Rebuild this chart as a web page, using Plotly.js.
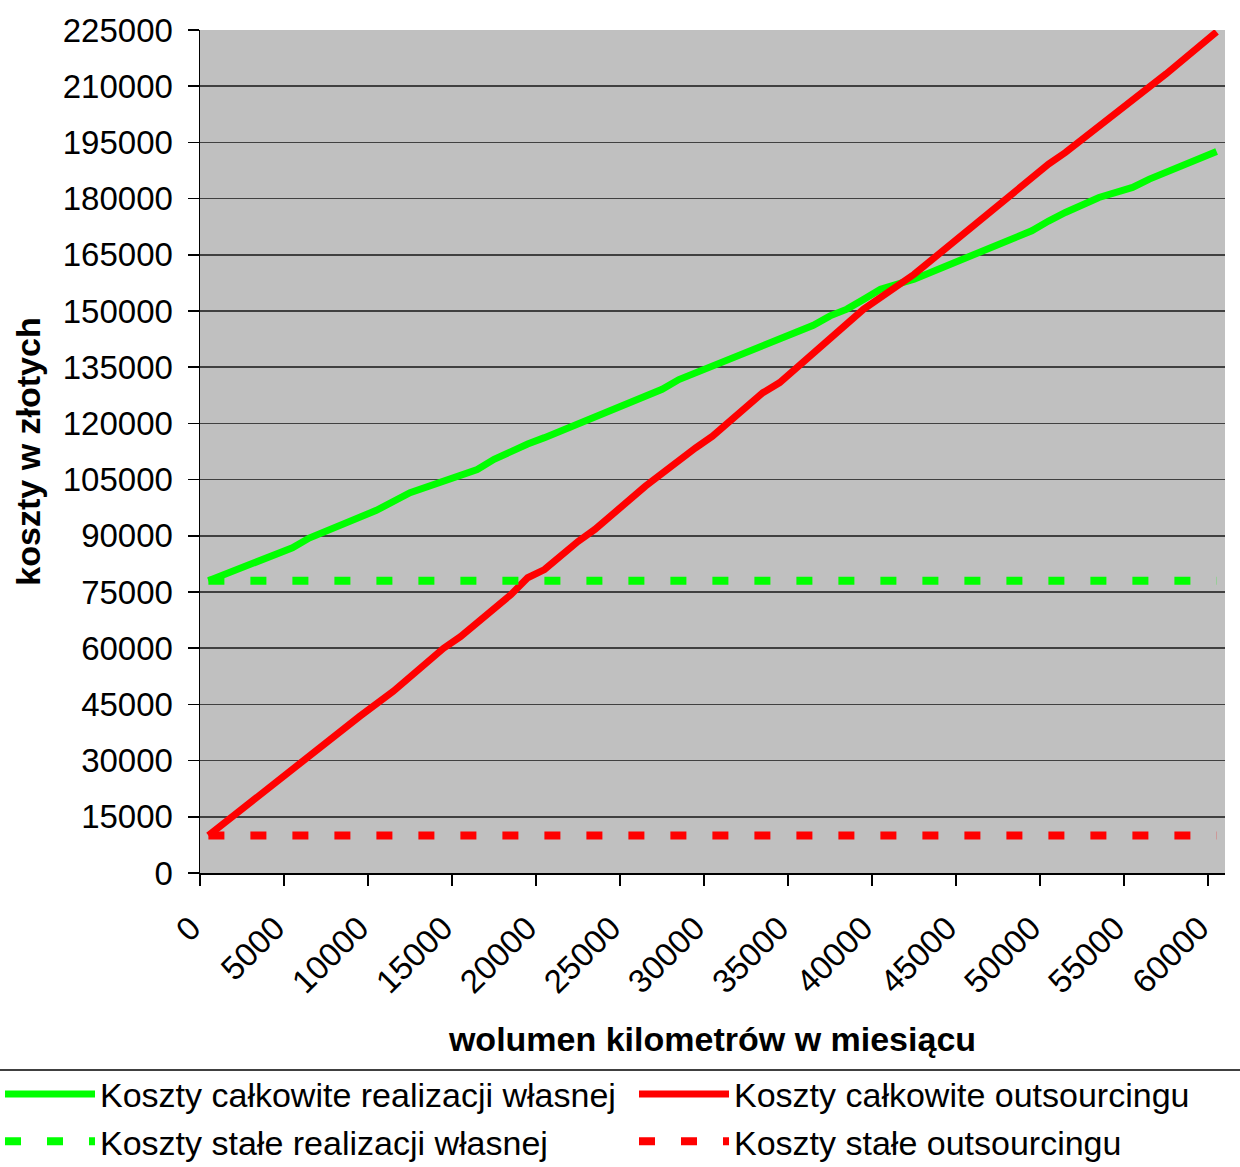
<!DOCTYPE html>
<html>
<head>
<meta charset="utf-8">
<script src="https://cdn.plot.ly/plotly-3.0.1.min.js"></script>
<style>html,body{margin:0;padding:0;background:#fff;}</style>
</head>
<body>
<div id="chart" style="width:1240px;height:1167px;"></div>
<script>
// Tick labels of the category (km) axis
var xTickLabels = [0, 5000, 10000, 15000, 20000, 25000, 30000, 35000, 40000, 45000, 50000, 55000, 60000];

// Koszty całkowite realizacji własnej (km, zł)
var ownTotalKm   = [0, 5000, 6000, 9000, 10000, 12000, 16000, 17000, 18000, 19000, 20000, 24000, 25000, 27000, 28000, 30000, 34000, 36000, 37000, 38000, 39000, 40000, 42000, 46000, 49000, 50000, 51000, 53000, 55000, 56000, 60000];
var ownTotalCost = [78000, 86800, 89400, 94800, 96800, 101500, 107700, 110400, 112700, 114500, 116200, 123700, 125500, 129100, 131700, 135300, 142900, 146200, 148700, 150500, 153100, 155800, 158500, 166000, 171400, 174000, 176300, 180300, 183000, 185200, 192600];

// Koszty całkowite outsourcingu (km, zł)
var outTotalKm   = [0, 3000, 4000, 6000, 7000, 9000, 11000, 14000, 15000, 18000, 19000, 20000, 22000, 23000, 26000, 27000, 29000, 30000, 33000, 34000, 35000, 36000, 37000, 39000, 42000, 45000, 46000, 49000, 50000, 51000, 53000, 54000, 55000, 57000, 60000];
var outTotalCost = [10000, 20800, 24000, 31100, 35100, 41800, 48500, 60000, 63100, 74300, 78800, 81000, 88500, 91700, 103200, 106800, 113500, 116600, 128200, 130900, 134900, 138400, 142900, 150500, 159800, 170900, 174100, 185200, 189200, 192300, 199400, 202600, 206600, 213300, 224500];

// Koszty stałe (km, zł)
var fixedKm      = [0, 60000];
var ownFixedCost = [78000, 78000];
var outFixedCost = [10000, 10000];

var FONT = "Arial, 'Liberation Sans', sans-serif";

var traces = [
  {x: ownTotalKm, y: ownTotalCost, type: 'scatter', mode: 'lines', name: 'Koszty całkowite realizacji własnej',
   legend: 'legend', line: {color: '#00FF00', width: 7}},
  {x: outTotalKm, y: outTotalCost, type: 'scatter', mode: 'lines', name: 'Koszty całkowite outsourcingu',
   legend: 'legend2', line: {color: '#FF0000', width: 7}},
  {x: fixedKm, y: ownFixedCost, type: 'scatter', mode: 'lines', name: 'Koszty stałe realizacji własnej',
   legend: 'legend', line: {color: '#00FF00', width: 8, dash: '16px,26px'}},
  {x: fixedKm, y: outFixedCost, type: 'scatter', mode: 'lines', name: 'Koszty stałe outsourcingu',
   legend: 'legend2', line: {color: '#FF0000', width: 8, dash: '16px,26px'}}
];

// one legend column per cost type; entries wrap one per row
function legendBox(xPos, entryW) {
  return {
    orientation: 'h',
    xref: 'container', yref: 'container',
    x: xPos, y: 0.087, xanchor: 'left', yanchor: 'top',
    font: {family: FONT, size: 34, color: '#000'},
    itemwidth: 90,
    entrywidth: entryW, entrywidthmode: 'pixels',
    bgcolor: 'rgba(0,0,0,0)',
    traceorder: 'normal'
  };
}

var layout = {
  width: 1240, height: 1167,
  margin: {l: 200, r: 15, t: 30, b: 294},
  paper_bgcolor: '#FFFFFF',
  plot_bgcolor: '#C0C0C0',
  font: {family: FONT, color: '#000', size: 33},
  showlegend: true,
  xaxis: {
    type: 'linear',
    range: [-500, 60500],
    tickmode: 'array',
    tickvals: xTickLabels.map(function(v){ return v - 500; }),
    ticktext: xTickLabels.map(String),
    tickangle: -45,
    ticks: 'outside', ticklen: 11, tickwidth: 1.5, tickcolor: '#000',
    ticklabelstandoff: 10,
    ticklabelshift: -9,
    showline: true, linecolor: '#000', linewidth: 1.5,
    showgrid: false, zeroline: false,
    tickfont: {family: FONT, size: 33, color: '#000'},
    title: {text: 'wolumen kilometrów w miesiącu', font: {family: FONT, size: 34, weight: 'bold', color: '#000'}, standoff: 28}
  },
  yaxis: {
    range: [0, 225000],
    tick0: 0, dtick: 15000,
    tickformat: 'd',
    ticks: 'outside', ticklen: 11, tickwidth: 1.5, tickcolor: '#000',
    ticklabelstandoff: 8,
    showline: true, linecolor: '#000', linewidth: 1.5,
    showgrid: true, gridcolor: '#404040', gridwidth: 1.5,
    zeroline: false,
    tickfont: {family: FONT, size: 33, color: '#000'},
    title: {text: 'koszty w złotych', font: {family: FONT, size: 34, weight: 'bold', color: '#000'}, standoff: 12}
  },
  legend: legendBox(0, 530),
  legend2: legendBox(634/1240, 470),
  shapes: [
    {type: 'line', xref: 'paper', yref: 'paper',
     x0: -200/1025, x1: 1040/1025, y0: (873-1070)/843, y1: (873-1070)/843,
     line: {color: '#000', width: 1.5}}
  ]
};

Plotly.newPlot('chart', traces, layout, {staticPlot: true, displayModeBar: false});
</script>
</body>
</html>
